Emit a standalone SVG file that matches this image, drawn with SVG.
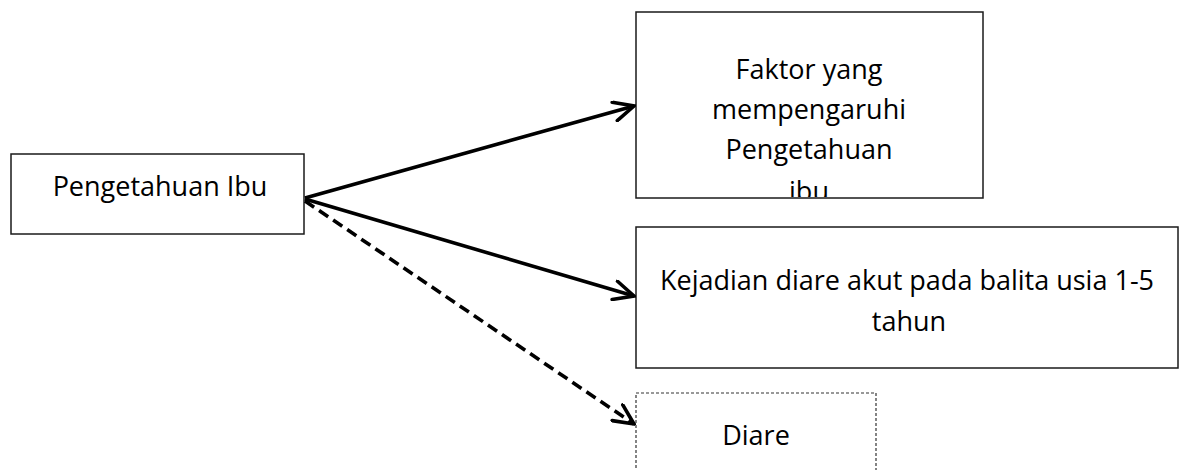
<svg xmlns="http://www.w3.org/2000/svg" width="1182" height="470" viewBox="0 0 1182 470">
  <style>
    .box { fill: #ffffff; stroke: #1a1a1a; stroke-width: 1.5; }
    .dotbox { fill: #ffffff; stroke: #333333; stroke-width: 1.2; stroke-dasharray: 3 2; }
    .lbl { font-family: "Open Sans", "Noto Sans", sans-serif; font-size: 27px; fill: #000000; text-anchor: middle; }
    .conn { stroke: #000000; stroke-width: 3.6; fill: none; }
    .dash { stroke-dasharray: 11 6; }
  </style>
  <defs>
    <marker id="arr" viewBox="0 0 24 22" refX="22" refY="11" markerWidth="24" markerHeight="22" markerUnits="userSpaceOnUse" orient="auto">
      <path d="M2,1.5 L22,11 L2,20.5" fill="none" stroke="#000000" stroke-width="3.6" stroke-linecap="round" stroke-linejoin="miter"/>
    </marker>
    <clipPath id="clipF">
      <rect x="636" y="12" width="347" height="185"/>
    </clipPath>
  </defs>
  <rect width="1182" height="470" fill="#ffffff"/>

  <g id="node-pengetahuan">
    <rect class="box" x="11" y="154" width="293" height="80"/>
    <text class="lbl" x="160" y="196">Pengetahuan Ibu</text>
  </g>

  <g id="node-faktor">
    <rect class="box" x="636" y="12" width="347" height="186"/>
    <g clip-path="url(#clipF)">
      <text class="lbl" x="809" y="79">Faktor yang</text>
      <text class="lbl" x="809" y="119">mempengaruhi</text>
      <text class="lbl" x="809" y="159">Pengetahuan</text>
      <text class="lbl" x="809" y="201">ibu</text>
    </g>
  </g>

  <g id="node-kejadian">
    <rect class="box" x="636" y="227" width="542" height="141"/>
    <text class="lbl" x="907" y="290">Kejadian diare akut pada balita usia 1-5</text>
    <text class="lbl" x="909" y="331">tahun</text>
  </g>

  <g id="node-diare">
    <rect class="dotbox" x="636" y="393" width="240" height="90"/>
    <text class="lbl" x="756" y="445">Diare</text>
  </g>

  <g id="connectors">
    <line class="conn" x1="305" y1="198" x2="634" y2="106" marker-end="url(#arr)"/>
    <line class="conn" x1="305" y1="199" x2="634" y2="296" marker-end="url(#arr)"/>
    <line class="conn dash" x1="305" y1="201" x2="634" y2="424" marker-end="url(#arr)"/>
  </g>
</svg>
